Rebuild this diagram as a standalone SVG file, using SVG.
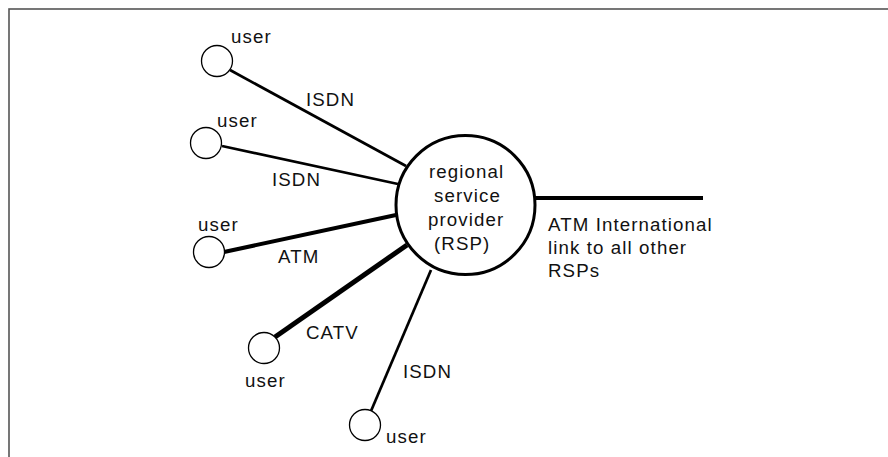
<svg xmlns="http://www.w3.org/2000/svg" width="888" height="457" viewBox="0 0 888 457">
<style>
text{font-family:"Liberation Sans",Arial,sans-serif;font-size:18.7px;letter-spacing:1.1px;fill:#111}
.u{fill:#fff;stroke:#000;stroke-width:1.3}
.c{stroke:#000;fill:none;stroke-linecap:butt}
</style>
<rect x="9" y="9" width="900" height="470" fill="#fff" stroke="#555" stroke-width="1.6"/>
<g id="connectors">
<line class="c" x1="230" y1="70" x2="406" y2="166" stroke-width="2.7"/>
<line class="c" x1="222" y1="146" x2="398" y2="184" stroke-width="2.7"/>
<line class="c" x1="224" y1="252" x2="396" y2="215" stroke-width="4"/>
<line class="c" x1="275" y1="337" x2="407" y2="245" stroke-width="5"/>
<line class="c" x1="371" y1="411" x2="431" y2="270" stroke-width="2.7"/>
<line class="c" x1="535" y1="198" x2="703" y2="198" stroke-width="4"/>
<text x="306" y="106">ISDN</text>
<text x="272" y="186">ISDN</text>
<text x="278" y="263">ATM</text>
<text x="306" y="339">CATV</text>
<text x="403" y="378">ISDN</text>
<text x="548" y="231">ATM International</text>
<text x="548" y="254">link to all other</text>
<text x="548" y="277">RSPs</text>
</g>
<g id="rsp">
<circle cx="465.5" cy="205" r="69.5" fill="#fff" stroke="#000" stroke-width="3"/>
<text x="429" y="178">regional</text>
<text x="434" y="202">service</text>
<text x="428" y="226">provider</text>
<text x="434" y="250">(RSP)</text>
</g>
<g id="user1"><circle class="u" cx="217" cy="61" r="15.5"/><text x="231" y="43">user</text></g>
<g id="user2"><circle class="u" cx="206" cy="143" r="15.5"/><text x="217" y="127">user</text></g>
<g id="user3"><circle class="u" cx="209" cy="252" r="15.5"/><text x="198" y="231">user</text></g>
<g id="user4"><circle class="u" cx="264" cy="348" r="15.5"/><text x="245" y="387">user</text></g>
<g id="user5"><circle class="u" cx="365" cy="425" r="15.5"/><text x="386" y="443">user</text></g>
</svg>
